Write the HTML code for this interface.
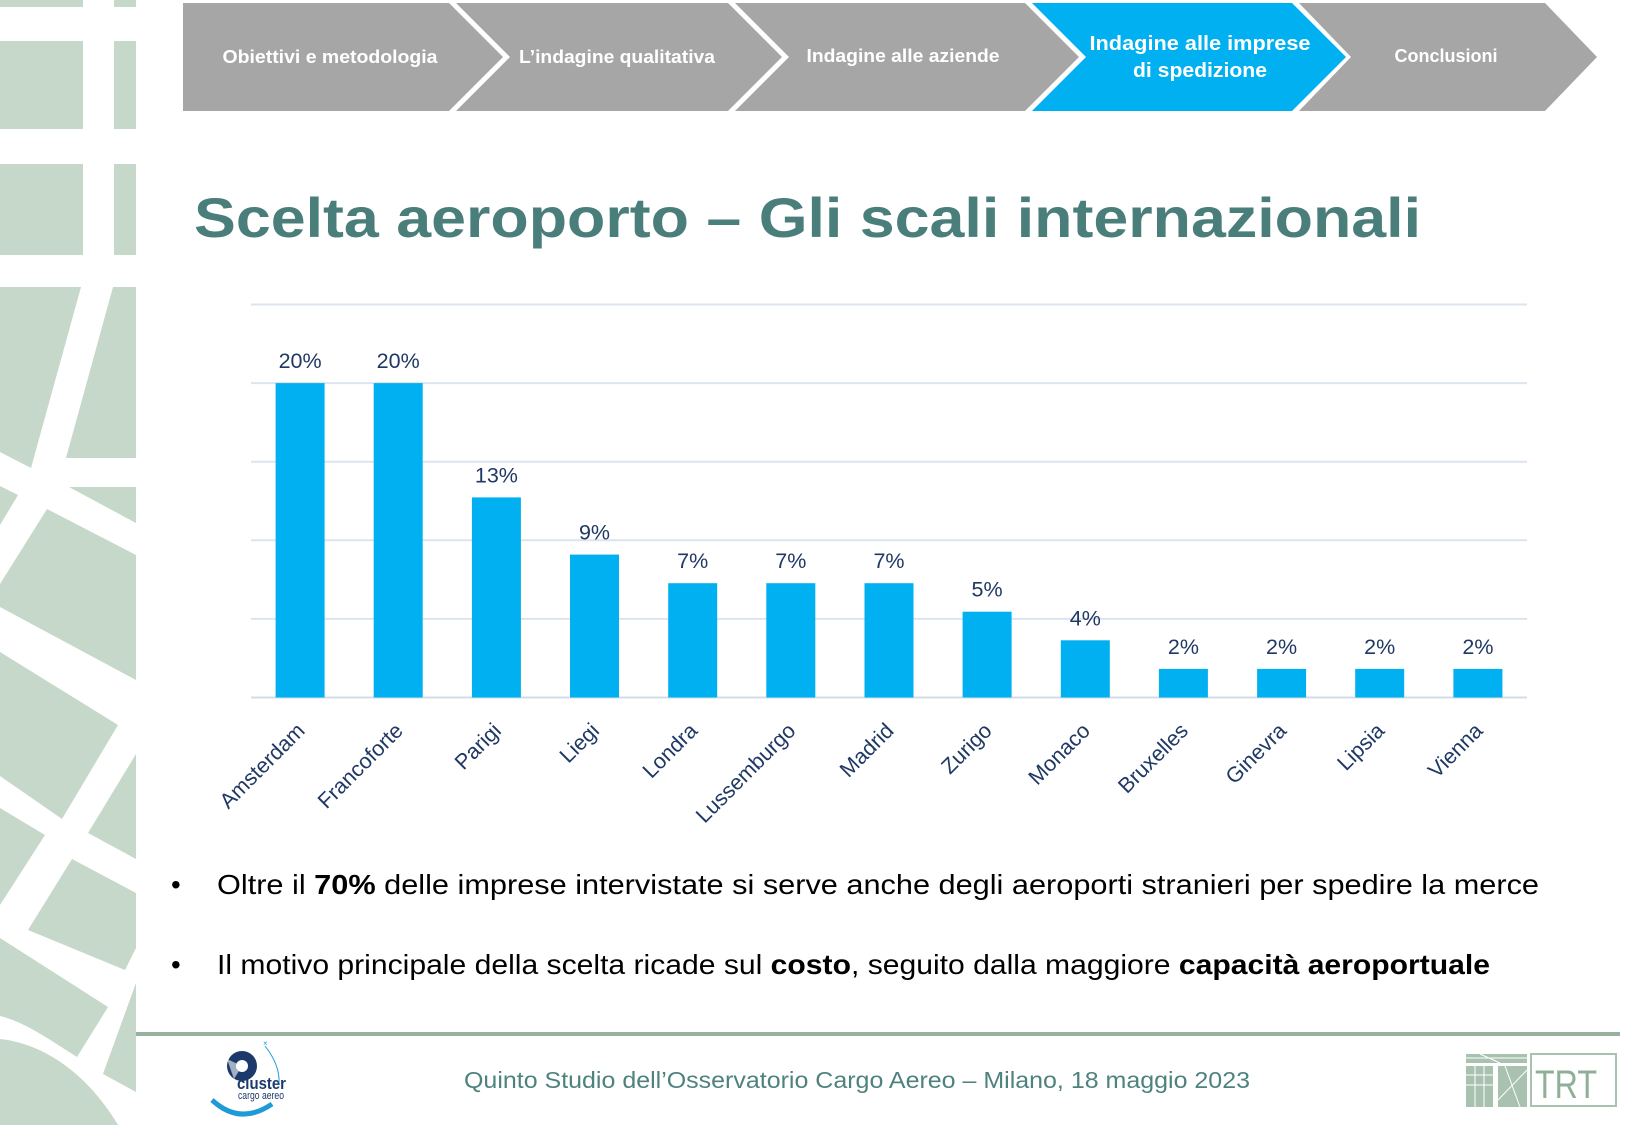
<!DOCTYPE html>
<html><head><meta charset="utf-8"><style>
html,body{margin:0;padding:0;background:#fff;}
svg{display:block;}
text{font-family:"Liberation Sans",Arial,sans-serif;}
</style></head><body>
<svg width="1625" height="1125" viewBox="0 0 1625 1125" xmlns="http://www.w3.org/2000/svg">
<rect width="1625" height="1125" fill="#fff"/>
<!-- left decorative strip -->
<g fill="#C5D8C9">
<rect x="0" y="0" width="83" height="7"/><rect x="114" y="0" width="22" height="7"/>
<rect x="0" y="41" width="83" height="88"/><rect x="114" y="41" width="22" height="88"/>
<rect x="0" y="164" width="83" height="91"/><rect x="114" y="164" width="22" height="91"/>
<polygon points="0,287 81,287 31,468 0,452"/>
<polygon points="113,287 136,287 136,458 66,458"/>
<polygon points="0,486 18,495 0,525"/>
<polygon points="69,487 136,487 136,523"/>
<polygon points="47,509 136,555 136,680 0,607 0,584"/>
<polygon points="0,652 118,725 62,819 0,776"/>
<polygon points="136,754 88,833 136,859"/>
<polygon points="0,808 45,835 0,905"/>
<polygon points="72,859 136,893 136,948 125,970 28,930"/>
<path d="M0,938 L108,1007 L77,1057 C50,1040 25,1022 0,1016 Z"/>
<polygon points="136,983 103,1074 136,1092"/>
<path d="M0,1039 C40,1043 85,1070 118,1125 L0,1125 Z"/>
</g>
<!-- header chevrons -->
<polygon points="183,3 449,3 503,57 449,111 183,111" fill="#A6A6A6"/>
<polygon points="456,3 728,3 782,57 728,111 456,111 510,57" fill="#A6A6A6"/>
<polygon points="735,3 1025,3 1079,57 1025,111 735,111 789,57" fill="#A6A6A6"/>
<polygon points="1032,3 1292,3 1346,57 1292,111 1032,111 1086,57" fill="#00B0F0"/>
<polygon points="1299,3 1545,3 1597,57 1545,111 1299,111 1351,57" fill="#A6A6A6"/>
<g fill="#fff" font-weight="bold" font-size="18" text-anchor="middle">
<text x="330" y="63" textLength="215" lengthAdjust="spacingAndGlyphs">Obiettivi e metodologia</text>
<text x="617" y="63" textLength="196" lengthAdjust="spacingAndGlyphs">L’indagine qualitativa</text>
<text x="903" y="62" textLength="193" lengthAdjust="spacingAndGlyphs">Indagine alle aziende</text>
<text x="1200" y="50" font-size="20" textLength="221" lengthAdjust="spacingAndGlyphs">Indagine alle imprese</text>
<text x="1200" y="77" font-size="20" textLength="134" lengthAdjust="spacingAndGlyphs">di spedizione</text>
<text x="1446" y="62" textLength="103" lengthAdjust="spacingAndGlyphs">Conclusioni</text>
</g>
<!-- title -->
<text x="194" y="237" font-size="56" font-weight="bold" fill="#4A7E7A" textLength="1227" lengthAdjust="spacingAndGlyphs">Scelta aeroporto – Gli scali internazionali</text>
<!-- gridlines -->
<g stroke="#DCE4F1" stroke-width="2">
<line x1="251" y1="304.5" x2="1527" y2="304.5"/>
<line x1="251" y1="383.1" x2="1527" y2="383.1"/>
<line x1="251" y1="461.7" x2="1527" y2="461.7"/>
<line x1="251" y1="540.3" x2="1527" y2="540.3"/>
<line x1="251" y1="618.9" x2="1527" y2="618.9"/>
<line x1="251" y1="697.5" x2="1527" y2="697.5" stroke="#D3DCEB"/>
</g>
<!-- bars -->
<g fill="#00B0F0">
<rect x="275.6" y="383.1" width="49" height="314.4"/>
<rect x="373.7" y="383.1" width="49" height="314.4"/>
<rect x="471.9" y="497.4" width="49" height="200.1"/>
<rect x="570.0" y="554.6" width="49" height="142.9"/>
<rect x="668.2" y="583.2" width="49" height="114.3"/>
<rect x="766.3" y="583.2" width="49" height="114.3"/>
<rect x="864.5" y="583.2" width="49" height="114.3"/>
<rect x="962.6" y="611.7" width="49" height="85.8"/>
<rect x="1060.8" y="640.3" width="49" height="57.2"/>
<rect x="1158.9" y="668.9" width="49" height="28.6"/>
<rect x="1257.1" y="668.9" width="49" height="28.6"/>
<rect x="1355.2" y="668.9" width="49" height="28.6"/>
<rect x="1453.4" y="668.9" width="49" height="28.6"/>
</g>
<!-- data labels -->
<g fill="#1F3864" font-size="21.5" text-anchor="middle">
<text x="300.1" y="368">20%</text>
<text x="398.2" y="368">20%</text>
<text x="496.4" y="482.5">13%</text>
<text x="594.5" y="539.6">9%</text>
<text x="692.7" y="568.2">7%</text>
<text x="790.8" y="568.2">7%</text>
<text x="889.0" y="568.2">7%</text>
<text x="987.1" y="596.7">5%</text>
<text x="1085.3" y="625.3">4%</text>
<text x="1183.4" y="653.9">2%</text>
<text x="1281.6" y="653.9">2%</text>
<text x="1379.7" y="653.9">2%</text>
<text x="1477.9" y="653.9">2%</text>
</g>
<!-- category labels -->
<g fill="#1F3864" font-size="21.5" text-anchor="end">
<text transform="translate(306.1,732) rotate(-45)">Amsterdam</text>
<text transform="translate(404.2,732) rotate(-45)">Francoforte</text>
<text transform="translate(502.4,732) rotate(-45)">Parigi</text>
<text transform="translate(600.5,732) rotate(-45)">Liegi</text>
<text transform="translate(698.7,732) rotate(-45)">Londra</text>
<text transform="translate(796.8,732) rotate(-45)">Lussemburgo</text>
<text transform="translate(895.0,732) rotate(-45)">Madrid</text>
<text transform="translate(993.1,732) rotate(-45)">Zurigo</text>
<text transform="translate(1091.3,732) rotate(-45)">Monaco</text>
<text transform="translate(1189.4,732) rotate(-45)">Bruxelles</text>
<text transform="translate(1287.6,732) rotate(-45)">Ginevra</text>
<text transform="translate(1385.7,732) rotate(-45)">Lipsia</text>
<text transform="translate(1483.9,732) rotate(-45)">Vienna</text>
</g>
<!-- bullets -->
<g fill="#000" font-size="27.7">
<text x="171" y="894">•</text>
<text x="171" y="974">•</text>
<text x="217" y="894" textLength="1322" lengthAdjust="spacingAndGlyphs">Oltre il <tspan font-weight="bold">70%</tspan> delle imprese intervistate si serve anche degli aeroporti stranieri per spedire la merce</text>
<text x="217" y="974" textLength="1273" lengthAdjust="spacingAndGlyphs">Il motivo principale della scelta ricade sul <tspan font-weight="bold">costo</tspan>, seguito dalla maggiore <tspan font-weight="bold">capacità aeroportuale</tspan></text>
</g>
<!-- footer -->
<rect x="136" y="1032" width="1484" height="4" fill="#98B2A0"/>
<text x="464" y="1088" font-size="23" fill="#4E827E" textLength="786" lengthAdjust="spacingAndGlyphs">Quinto Studio dell’Osservatorio Cargo Aereo – Milano, 18 maggio 2023</text>
<!-- cluster logo -->
<g>
<circle cx="242" cy="1066" r="15" fill="#1B3A6B"/>
<circle cx="242" cy="1066" r="6" fill="#fff"/>
<path d="M227,1059 L242,1066 L234,1079 Z" fill="#fff" opacity="0.6"/>
<text x="237" y="1089" font-size="17" font-weight="bold" fill="#1B3A6B" textLength="49" lengthAdjust="spacingAndGlyphs">cluster</text>
<text x="238" y="1099" font-size="11" fill="#1B3A6B" textLength="46" lengthAdjust="spacingAndGlyphs">cargo aereo</text>
<path d="M212,1100 Q240,1126 272,1104" stroke="#1E9BD7" stroke-width="5" fill="none"/>
<path d="M265,1046 Q280,1065 279,1083" stroke="#1E9BD7" stroke-width="1" fill="none"/>
<text x="263" y="1046" font-size="8" fill="#1E9BD7">×</text>
</g>
<!-- TRT logo -->
<g>
<rect x="1466" y="1054" width="61" height="9" fill="#A9C2B0"/>
<rect x="1466" y="1066" width="27" height="41" fill="#A9C2B0"/>
<rect x="1498" y="1066" width="29" height="41" fill="#A9C2B0"/>
<g stroke="#fff" stroke-width="1">
<line x1="1466" y1="1075" x2="1493" y2="1075"/><line x1="1466" y1="1085" x2="1493" y2="1085"/>
<line x1="1475" y1="1066" x2="1475" y2="1107"/><line x1="1484" y1="1066" x2="1484" y2="1107"/>
<line x1="1498" y1="1100" x2="1527" y2="1070"/><line x1="1505" y1="1066" x2="1520" y2="1107"/>
<line x1="1480" y1="1054" x2="1500" y2="1063"/><line x1="1466" y1="1058" x2="1527" y2="1058"/>
</g>
<rect x="1531" y="1054" width="85" height="52" fill="none" stroke="#A9C2B0" stroke-width="2"/>
<text x="1535" y="1098" font-family="Liberation Serif,serif" font-size="40" fill="#8FAF99" textLength="62" lengthAdjust="spacingAndGlyphs">TRT</text>
</g>
</svg>
</body></html>
